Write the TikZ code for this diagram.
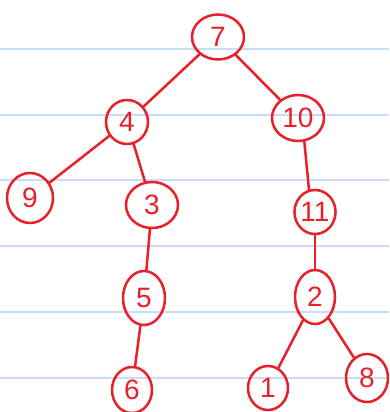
\documentclass[tikz,border=0pt]{standalone}
\usepackage{fontspec}
\setmainfont{Liberation Sans}
\usetikzlibrary{shapes.geometric}
\definecolor{pen}{HTML}{E8202A}
\definecolor{rule}{HTML}{C8DCF8}
\tikzset{
  nd/.style={ellipse, draw=pen, line width=2.5pt, inner sep=0pt, text=pen,
    font=\fontsize{28}{28}\selectfont},
  ed/.style={draw=pen, line width=2.5pt, line cap=round},
  ruleline/.style={draw=rule, line width=1.5pt}
}
\begin{document}
\begin{tikzpicture}[x=1pt,y=-1pt]
\useasboundingbox (0,0) rectangle (389,412);
\fill[white] (0,0) rectangle (389,412);
\foreach \yy in {49,115,180,246,312,378} {
  \path[ruleline] (0,\yy) -- (389,\yy);
}
\node[nd, minimum width=52pt, minimum height=45pt] (n7) at (218,37) {7};
\node[nd, minimum width=42pt, minimum height=44pt] (n4) at (127,122) {4};
\node[nd, minimum width=52pt, minimum height=46pt] (n10) at (298,118) {10};
\node[nd, minimum width=46pt, minimum height=50pt] (n9) at (30,198) {9};
\node[nd, minimum width=52pt, minimum height=46pt] (n3) at (152,205) {3};
\node[nd, minimum width=36pt, minimum height=44pt] (n11) at (315,212) {11};
\node[nd, minimum width=42pt, minimum height=54pt] (n5) at (144,298) {5};
\node[nd, minimum width=40pt, minimum height=54pt] (n2) at (315,297) {2};
\node[nd, minimum width=40pt, minimum height=46pt] (n6) at (132,390) {6};
\node[nd, minimum width=40pt, minimum height=44pt] (n1) at (268,388) {1};
\node[nd, minimum width=42pt, minimum height=48pt] (n8) at (367,378) {8};
\draw[ed] (n7) -- (n4);
\draw[ed] (n7) -- (n10);
\draw[ed] (n4) -- (n9);
\draw[ed] (n4) -- (n3);
\draw[ed] (n3) -- (n5);
\draw[ed] (n5) -- (n6);
\draw[ed] (n10.285) -- (n11.105);
\draw[ed] (n11) -- (n2);
\draw[ed] (n2) -- (n1);
\draw[ed] (n2) -- (n8);
\end{tikzpicture}
\end{document}
